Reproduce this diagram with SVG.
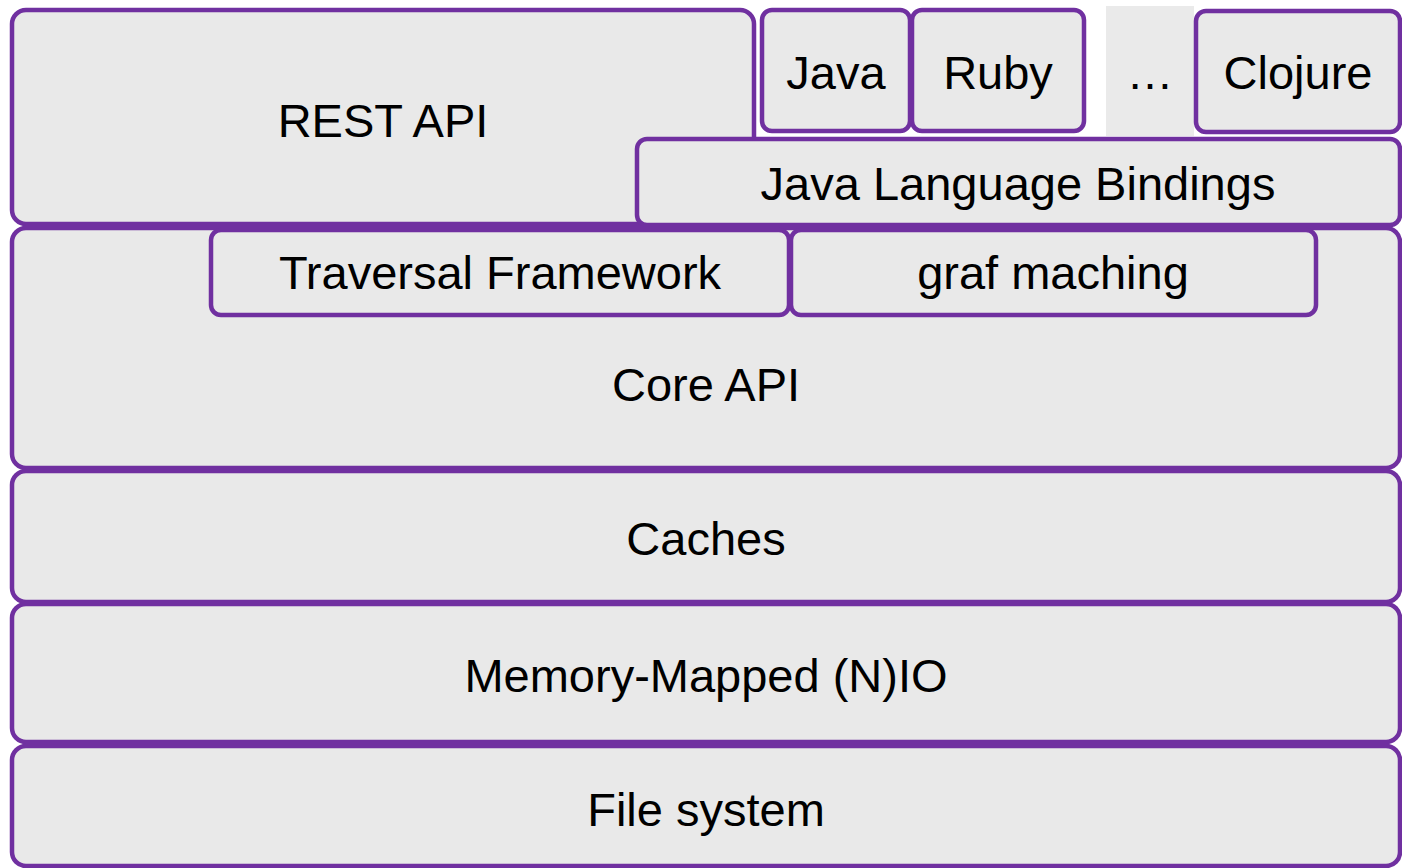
<svg xmlns="http://www.w3.org/2000/svg" width="1402" height="868" viewBox="0 0 1402 868">
<style>
.b{fill:#E9E9E9;stroke:#7030A0;stroke-width:4.5}
.d{fill:#EAEAEA;stroke:none}
text{font-family:"Liberation Sans",Arial,sans-serif;font-size:47px;fill:#000;text-anchor:middle}
</style>
<rect width="1402" height="868" fill="#FFFFFF"/>
<g id="rest-api"><rect class="b" x="12" y="10" width="742" height="214" rx="14"/><text x="383" y="137">REST API</text></g>
<g id="java"><rect class="b" x="762" y="10" width="148" height="121" rx="10"/><text x="836" y="89">Java</text></g>
<g id="ruby"><rect class="b" x="912" y="10" width="172" height="121" rx="10"/><text x="998" y="89">Ruby</text></g>
<g id="ellipsis"><rect class="d" x="1106" y="6" width="88" height="130"/><text x="1150" y="89">…</text></g>
<g id="clojure"><rect class="b" x="1196" y="11" width="204" height="121" rx="10"/><text x="1298" y="89">Clojure</text></g>
<g id="java-bindings"><rect class="b" x="637" y="139" width="763" height="86" rx="10"/><text x="1018" y="200">Java Language Bindings</text></g>
<g id="core-api"><rect class="b" x="12" y="228" width="1388" height="240" rx="14"/><text x="706" y="401">Core API</text></g>
<g id="traversal"><rect class="b" x="211" y="230" width="578" height="85" rx="10"/><text x="500" y="289">Traversal Framework</text></g>
<g id="graf"><rect class="b" x="791" y="230" width="525" height="85" rx="10"/><text x="1053" y="289">graf maching</text></g>
<g id="caches"><rect class="b" x="12" y="471" width="1388" height="131" rx="14"/><text x="706" y="555">Caches</text></g>
<g id="nio"><rect class="b" x="12" y="604" width="1388" height="138" rx="14"/><text x="706" y="692">Memory-Mapped (N)IO</text></g>
<g id="fs"><rect class="b" x="12" y="746" width="1388" height="120" rx="14"/><text x="706" y="826">File system</text></g>
<g id="connectors"></g>
</svg>
